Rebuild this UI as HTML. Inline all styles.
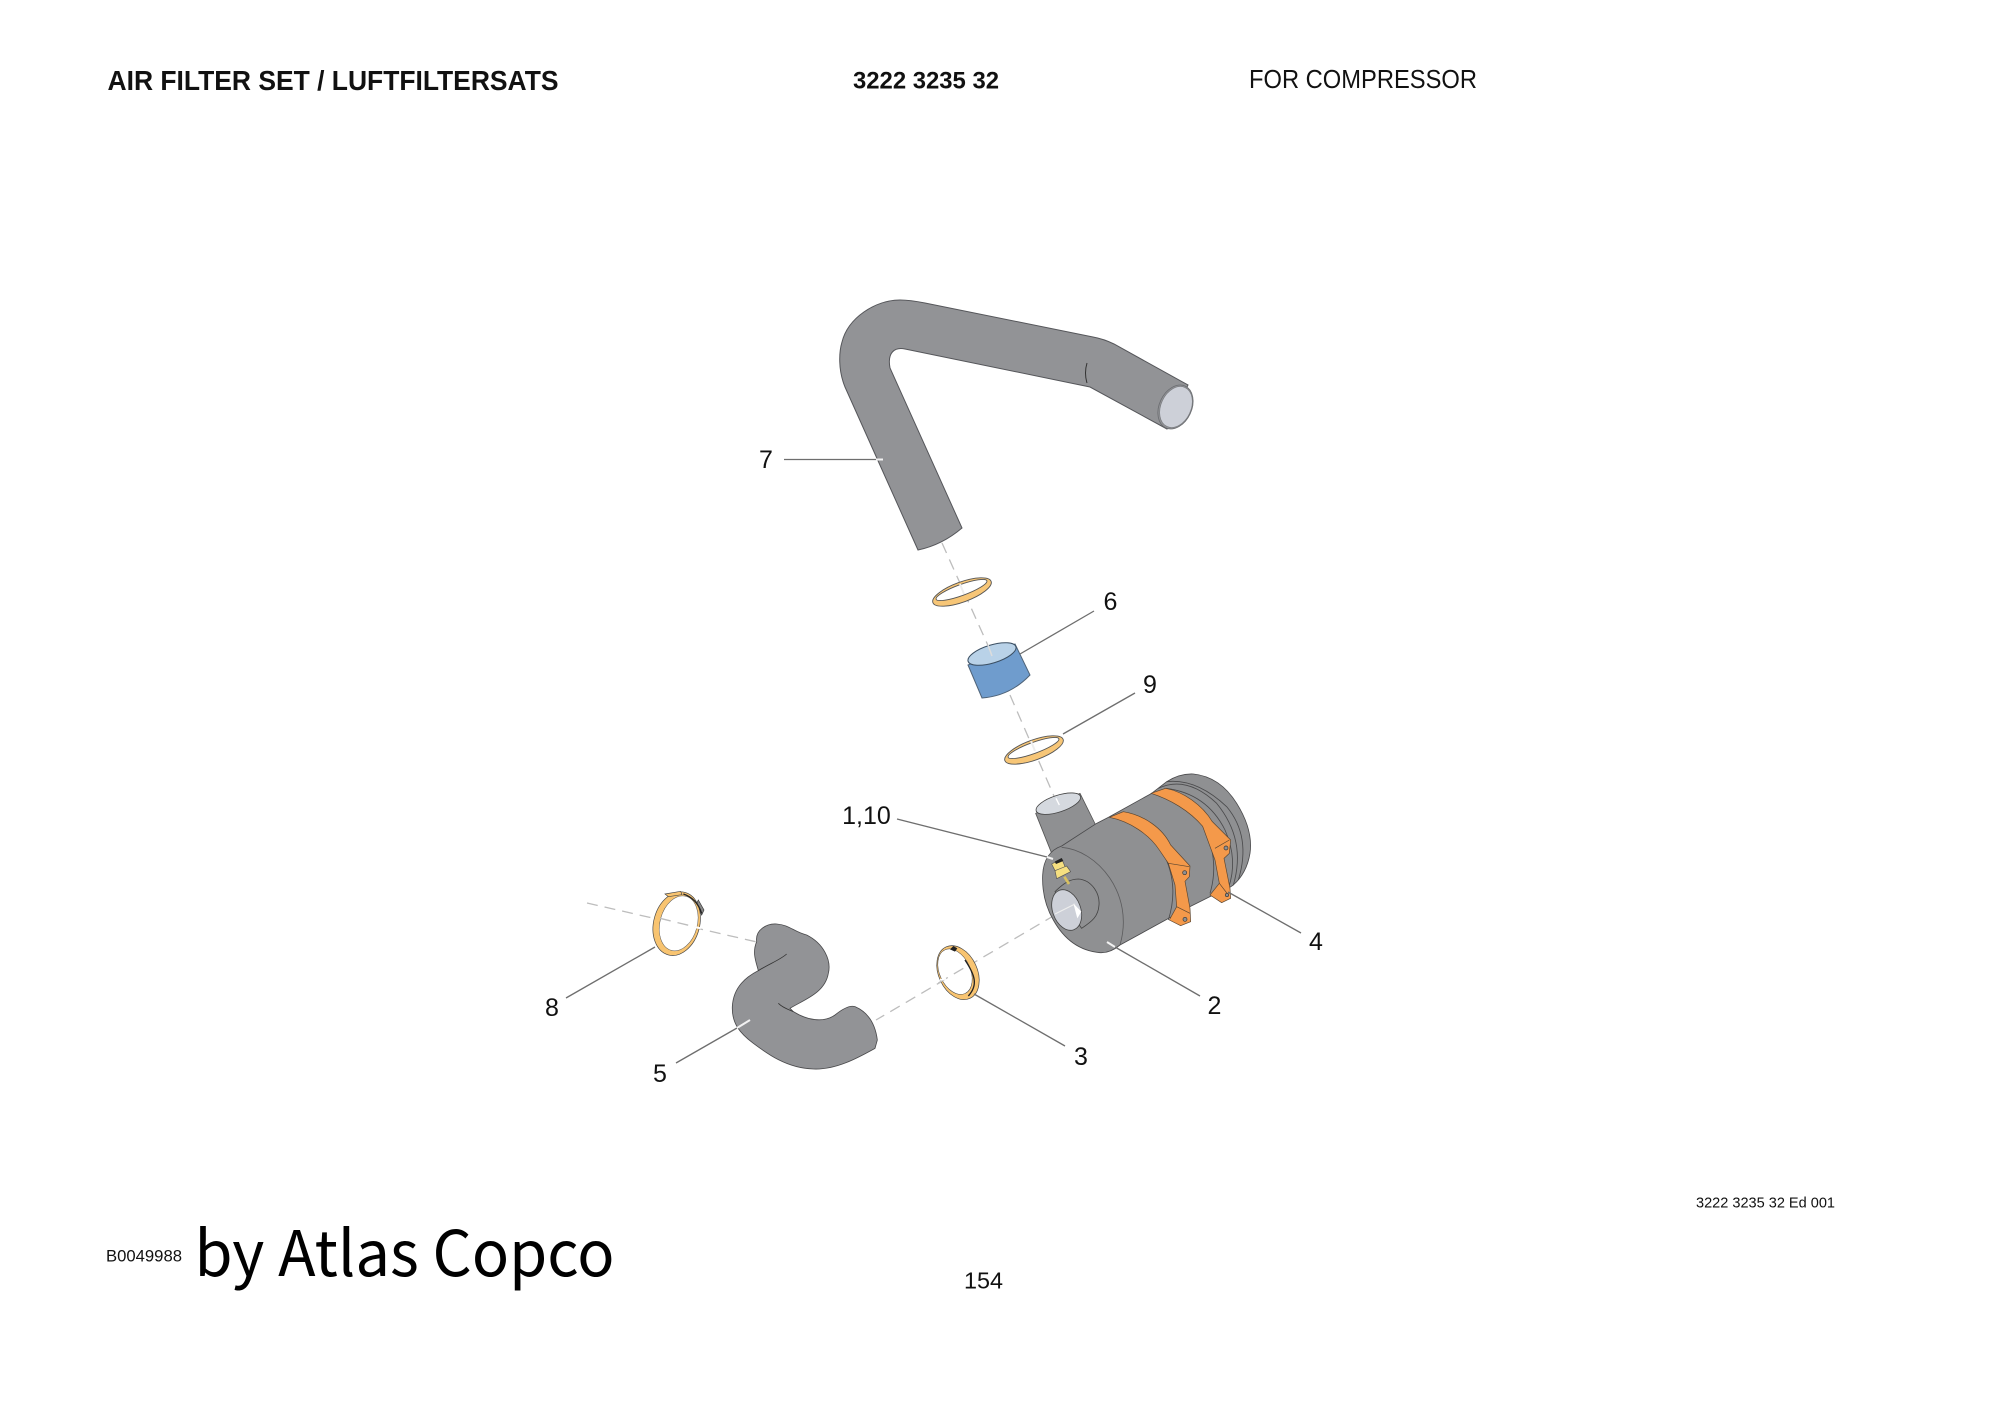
<!DOCTYPE html>
<html lang="en"><head><meta charset="utf-8"><title>Air Filter Set</title>
<style>html,body{margin:0;padding:0;background:#fff}svg{display:block}</style></head>
<body>
<svg width="2000" height="1414" viewBox="0 0 2000 1414" xmlns="http://www.w3.org/2000/svg" font-family="'Liberation Sans',sans-serif">
<rect width="2000" height="1414" fill="#fff"/>
<!-- header -->
<text x="107.5" y="90" font-size="28" font-weight="bold" textLength="451" lengthAdjust="spacingAndGlyphs" fill="#111">AIR FILTER SET / LUFTFILTERSATS</text>
<text x="853" y="88.5" font-size="24" font-weight="bold" textLength="146" lengthAdjust="spacingAndGlyphs" fill="#111">3222 3235 32</text>
<text x="1249" y="88" font-size="26" textLength="228" lengthAdjust="spacingAndGlyphs" fill="#111">FOR COMPRESSOR</text>
<!-- footer -->
<text x="106" y="1261.5" font-size="17" textLength="76" lengthAdjust="spacingAndGlyphs" fill="#111">B0049988</text>
<text x="194.5" y="1276" font-size="63" textLength="420" lengthAdjust="spacingAndGlyphs" font-family="'Noto Sans CJK SC',sans-serif" fill="#000">by Atlas Copco</text>
<text x="964" y="1288.5" font-size="23" textLength="39" lengthAdjust="spacingAndGlyphs" fill="#111">154</text>
<text x="1696" y="1207.5" font-size="15" textLength="139" lengthAdjust="spacingAndGlyphs" fill="#111">3222 3235 32 Ed 001</text>

<!-- dashed axes -->
<g stroke="#bdbdbd" stroke-width="1.3" stroke-dasharray="11 7" fill="none">
<path d="M942 543L990 650M1010 695L1057 803"/>
<path d="M1055 915L876 1020"/>
<path d="M587 903L757 942"/>
</g>

<!-- pipe 7 -->
<path d="M918 550L845 387C838 370 839 352 842 342C848 318 875 300 900 300C908 300 915 301 925 303L1093 337Q1104 339 1114 344L1188 385L1167 429L1090 387L905 349C895 347 887 352 890 368L962 528Q942 545 918 550Z" fill="#929396" stroke="#55565a" stroke-width="1"/>
<path d="M1087 363Q1084 373 1087 383" fill="none" stroke="#333" stroke-width="1"/>
<ellipse cx="1175.5" cy="407" rx="16.2" ry="23" transform="rotate(25 1175.5 407)" fill="#929396" stroke="#6a6c70" stroke-width=".8"/>
<ellipse cx="1176" cy="407" rx="15" ry="21.5" transform="rotate(25 1176 407)" fill="#cdd0d8" stroke="#7a7c80" stroke-width=".7"/>

<!-- ring upper -->
<g stroke="#555" stroke-width=".9">
<ellipse cx="962" cy="592" rx="31" ry="10" transform="rotate(-20 962 592)" fill="#f7c677"/>
<ellipse cx="961.5" cy="590" rx="27" ry="5.5" transform="rotate(-20 961.5 590)" fill="#fff"/>
</g>
<path d="M960 584L964 594" stroke="#eee" stroke-width="2"/>
<!-- blue element 6 -->
<path d="M968 665L982 698Q1010 696 1030 675L1015 644Z" fill="#6f9ccd" stroke="#4f6378" stroke-width="1"/>
<ellipse cx="992" cy="654" rx="25" ry="9" transform="rotate(-17 992 654)" fill="#b9d2e8" stroke="#3a4e62" stroke-width="1"/>
<path d="M988 645L992 656" stroke="#ddd" stroke-width="1.5"/>
<!-- ring 9 -->
<g stroke="#555" stroke-width=".9">
<ellipse cx="1034" cy="750" rx="31" ry="10" transform="rotate(-20 1034 750)" fill="#f7c677"/>
<ellipse cx="1033.5" cy="748" rx="27" ry="5.5" transform="rotate(-20 1033.5 748)" fill="#fff"/>
</g>
<path d="M1031 741L1035 751" stroke="#eee" stroke-width="2"/>

<!-- filter assembly, zoom coordinates -->
<g transform="translate(1020 760) scale(.33333)" stroke-linejoin="round">
<!-- stub -->
<path d="M47 160L95 280L227 195L180 100Z" fill="#8f9092" stroke="#555" stroke-width="2.5"/>
<ellipse cx="115" cy="131" rx="70" ry="25" transform="rotate(-18 115 131)" fill="#d5d9df" stroke="#444" stroke-width="2.5"/>
<path d="M108 115L118 135" stroke="#fff" stroke-width="4"/>
<!-- body -->
<path d="M68 345C70 300 90 270 125 258L230 190L265 172L395 100L440 65Q480 40 520 42Q600 50 650 130Q700 210 690 280Q680 340 640 375L625 385L570 410L510 440L300 555Q270 580 240 578Q150 570 100 480Q65 420 68 345Z" fill="#8f9092" stroke="#4a4a4c" stroke-width="2.5"/>
<g fill="none" stroke="#4a4a4c" stroke-width="2.5">
<path d="M125 262C230 270 345 400 300 555" stroke="#5c5c5e"/>
<path d="M415 85Q500 45 590 130Q680 240 640 375"/>
<path d="M437 85Q560 100 615 210Q655 300 625 385"/>
<path d="M440 65Q530 55 620 140Q695 230 655 360"/>
<path d="M550 197Q600 300 570 400"/>
<path d="M425 270Q480 370 445 480"/>
</g>
<!-- band 1 -->
<path d="M268 172L310 155C372 165 428 205 452 255L510 318L508 350L495 364L510 445L512 485L482 497L448 480L470 440L465 375L445 310L418 270C388 224 330 184 268 172Z" fill="#f4994a" stroke="#5a4530" stroke-width="2"/>
<path d="M445 310L508 320M470 440L510 460" fill="none" stroke="#5a4530" stroke-width="2"/>
<circle cx="494" cy="338" r="6" fill="#8f9092" stroke="#333" stroke-width="2"/>
<circle cx="495" cy="478" r="6" fill="#8f9092" stroke="#333" stroke-width="2"/>
<!-- band 2 -->
<path d="M393 100L437 85C490 95 547 135 577 185L632 240L628 280L612 295L630 385L632 415L605 428L570 405L598 370L585 300L548 199C508 152 450 118 393 100Z" fill="#f4994a" stroke="#5a4530" stroke-width="2"/>
<path d="M585 265L628 240M598 370L625 405" fill="none" stroke="#5a4530" stroke-width="2"/>
<circle cx="618" cy="264" r="6" fill="#8f9092" stroke="#333" stroke-width="2"/>
<circle cx="621" cy="405" r="5" fill="#8f9092" stroke="#333" stroke-width="2"/>
<!-- outlet -->
<path d="M105 395C130 370 150 357 175 357C215 360 240 400 237 435C235 470 215 485 185 505Z" fill="#8f9092" stroke="#444" stroke-width="2.5"/>
<ellipse cx="140" cy="450" rx="42" ry="63" transform="rotate(-20 140 450)" fill="#cdd0d8" stroke="#444" stroke-width="2.5"/>
<path d="M160 430L184 455L172 475Z" fill="#fff"/>
<path d="M165 432L105 462" stroke="#eee" stroke-width="3"/>
<!-- nozzle -->
<path d="M133 350L147 372" stroke="#d8c060" stroke-width="8"/>
<path d="M95 312L125 296L136 322L105 332Z" fill="#f5df80" stroke="#555" stroke-width="2"/>
<path d="M105 332L140 318L152 335L110 356Z" fill="#f5df80" stroke="#555" stroke-width="2"/>
<path d="M104 305L125 294L130 303L108 312Z" fill="#222"/>
</g>

<!-- hose 5, zoom coordinates -->
<g transform="translate(560 880) scale(.33333)">
<path d="M590 185C585 150 620 130 650 132C690 135 700 155 740 165C790 190 815 240 805 280C795 340 730 360 690 385L700 395C740 420 790 430 825 405C850 385 870 375 885 380C920 395 945 425 952 480L945 505C900 530 830 570 760 567C680 565 620 520 580 490C540 460 515 430 517 380C520 320 560 290 595 272C590 250 575 220 590 185Z" fill="#929396" stroke="#4a4a4c" stroke-width="2.5"/>
<path d="M595 272C630 250 660 240 680 222M655 370C670 385 690 390 700 395" fill="none" stroke="#333" stroke-width="2.5"/>
<!-- clamp 8 -->
<path d="M415 60L432 90L425 105L410 70Z" fill="#888" stroke="#333" stroke-width="2"/>
<ellipse cx="350" cy="131" rx="69" ry="97" transform="rotate(15 350 131)" fill="#f8c471" stroke="#444" stroke-width="2"/>
<ellipse cx="356" cy="130" rx="56" ry="84" transform="rotate(15 356 130)" fill="#fff" stroke="#555" stroke-width="1.5"/>
<path d="M300 115L415 143" stroke="#bdbdbd" stroke-width="4" stroke-dasharray="33 21"/>
<path d="M405 141L422 145" stroke="#fff" stroke-width="6"/>
<path d="M370 42C395 50 415 70 425 100" fill="none" stroke="#222" stroke-width="4"/>
<path d="M315 42L362 34L366 44L325 50Z" fill="#f8c471" stroke="#444" stroke-width="2"/>
</g>

<!-- clamp 3 -->
<g transform="translate(900 920) scale(.33333)">
<ellipse cx="174" cy="158" rx="58" ry="85" transform="rotate(-25 174 158)" fill="#f8c471" stroke="#444" stroke-width="2"/>
<ellipse cx="165" cy="155" rx="46" ry="72" transform="rotate(-25 165 155)" fill="#fff" stroke="#444" stroke-width="1.5"/>
<path d="M195 120C225 165 235 195 205 228" fill="none" stroke="#222" stroke-width="4"/>
<path d="M190 145L100 198" stroke="#bdbdbd" stroke-width="4" stroke-dasharray="33 21"/>
<path d="M120 180L138 176" stroke="#fff" stroke-width="5"/>
<path d="M160 78L172 85L165 95L150 88Z" fill="#222"/>
</g>

<!-- leaders -->
<g stroke="#6e6e6e" stroke-width="1.3" fill="none">
<path d="M784 459.5H876"/>
<path d="M1020 654L1094 611"/>
<path d="M1063 734L1135 693"/>
<path d="M897 819L1047 857"/>
<path d="M1228 892L1301 933"/>
<path d="M1115 947L1200 996"/>
<path d="M974 994L1065 1046"/>
<path d="M676 1063L737 1028"/>
<path d="M655 947L566 998"/>
</g>
<g stroke="#f2f2f2" stroke-width="2" fill="none">
<path d="M876 459.5H883"/>
<path d="M1107 942L1115 947"/>
<path d="M737 1028L750 1020"/>
<path d="M1047 857L1053 859"/>
</g>
<!-- callouts -->
<g font-size="25" fill="#111" text-anchor="middle">
<text x="766" y="468">7</text>
<text x="1110.5" y="610">6</text>
<text x="1150" y="693">9</text>
<text x="866.5" y="824">1,10</text>
<text x="1316" y="950">4</text>
<text x="1214.5" y="1014">2</text>
<text x="1081" y="1065">3</text>
<text x="660" y="1082">5</text>
<text x="552" y="1016">8</text>
</g>
</svg>
</body></html>
